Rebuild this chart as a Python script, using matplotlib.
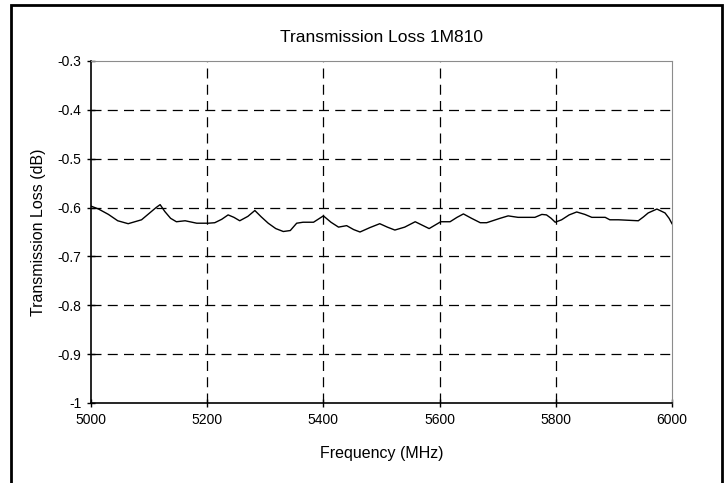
"""Transmission loss of 1M810 across the 5-6 GHz band."""

import matplotlib
matplotlib.use("Agg")
import matplotlib.pyplot as plt
from matplotlib.patches import Rectangle

# values
freq_mhz = [5000, 5013, 5030, 5046, 5064, 5087, 5104, 5112, 5119, 5127,
            5137, 5147, 5162, 5182, 5202, 5213, 5225, 5236, 5246, 5256,
            5270, 5282, 5293, 5305, 5318, 5331, 5343, 5354, 5365, 5383,
            5400, 5413, 5426, 5440, 5452, 5463, 5480, 5497, 5510, 5523,
            5540, 5558, 5570, 5582, 5602, 5618, 5630, 5641, 5655, 5670,
            5681, 5704, 5718, 5735, 5764, 5776, 5784, 5792, 5799, 5810,
            5823, 5836, 5850, 5862, 5885, 5893, 5908, 5942, 5951, 5959,
            5974, 5988, 5995, 6000]
loss_db = [-0.597, -0.603, -0.614, -0.627, -0.633, -0.625, -0.608, -0.600,
           -0.594, -0.608, -0.622, -0.629, -0.627, -0.632, -0.632, -0.631,
           -0.624, -0.615, -0.620, -0.627, -0.618, -0.606, -0.619, -0.632,
           -0.643, -0.649, -0.647, -0.632, -0.630, -0.630, -0.617, -0.630,
           -0.640, -0.637, -0.645, -0.650, -0.641, -0.633, -0.640, -0.646,
           -0.640, -0.629, -0.636, -0.643, -0.629, -0.629, -0.620, -0.613,
           -0.622, -0.631, -0.631, -0.622, -0.617, -0.620, -0.620, -0.614,
           -0.615, -0.622, -0.630, -0.625, -0.615, -0.609, -0.614, -0.620,
           -0.620, -0.625, -0.625, -0.627, -0.619, -0.611, -0.603, -0.611,
           -0.622, -0.633]
x_ticks = [5000, 5200, 5400, 5600, 5800, 6000]
y_ticks = [-1, -0.9, -0.8, -0.7, -0.6, -0.5, -0.4, -0.3]
y_labels = ["-1", "-0.9", "-0.8", "-0.7", "-0.6", "-0.5", "-0.4", "-0.3"]

plt.rcParams['font.family'] = ['Liberation Sans', 'DejaVu Sans']

fig = plt.figure(figsize=(7.24, 4.83), dpi=100)

# outer frame like the pasted report figure
fig.patches.append(Rectangle((11 / 724, -0.05), 711 / 724, 1 - 5 / 483 + 0.05,
                             transform=fig.transFigure, fill=False,
                             edgecolor="black", linewidth=2))

ax = fig.add_axes([91 / 724, 1 - 403 / 483, 581 / 724, 342 / 483])

# dashed grid only on the inner ticks (edges are covered by the frame)
for yv in y_ticks[1:-1]:
    ax.axhline(yv, color="black", linestyle=(0, (8, 5)), linewidth=0.9, zorder=1)
for xv in x_ticks[1:-1]:
    ax.axvline(xv, color="black", linestyle=(0, (8, 5)), linewidth=0.9, zorder=1)

ax.plot(freq_mhz, loss_db, color="black", linewidth=1.0, zorder=3)

ax.set_xlim(5000, 6000)
ax.set_ylim(-1, -0.3)
ax.set_xticks(x_ticks)
ax.set_yticks(y_ticks)
ax.set_yticklabels(y_labels)
ax.tick_params(direction="inout", length=6, width=1, labelsize=10, pad=4)

ax.spines["top"].set_color("#8c8c8c")
ax.spines["right"].set_color("#8c8c8c")
ax.spines["left"].set_linewidth(1.2)
ax.spines["bottom"].set_linewidth(1.2)

ax.set_title("Transmission Loss 1M810", fontsize=12.5, pad=14)
ax.set_xlabel("Frequency (MHz)", fontsize=11.5, labelpad=14)
ax.set_ylabel("Transmission Loss (dB)", fontsize=11.5, labelpad=8)

fig.savefig("out.png", dpi=100)
